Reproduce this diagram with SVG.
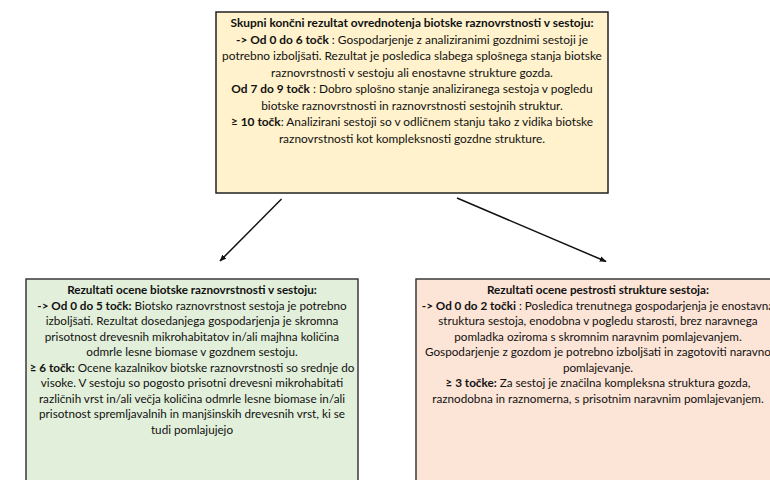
<svg xmlns="http://www.w3.org/2000/svg" width="770" height="480" viewBox="0 0 770 480">
<defs>
<style>
text{font-family:Lato,"Liberation Sans",Arial,sans-serif;font-size:11.7px;fill:#111;text-anchor:middle}
#top text{font-size:11.9px}
.b{font-weight:bold}
.box{stroke-width:1.5}
.con{stroke:#111;stroke-width:1.5;fill:none}
</style>
<marker id="ah" viewBox="0 0 10 10" refX="9" refY="5" markerWidth="7" markerHeight="7" orient="auto" markerUnits="userSpaceOnUse">
<path d="M0,1 L10,5 L0,9 z" fill="#111"/>
</marker>
</defs>
<rect width="770" height="480" fill="#fff"/>
<g id="top">
<rect class="box" x="216" y="12" width="392" height="181" fill="#FFF2CC" stroke="#222"/>
<text x="412" y="27"><tspan class="b">Skupni končni rezultat ovrednotenja biotske raznovrstnosti v sestoju:</tspan></text>
<text x="412" y="43.5"><tspan class="b">-&gt; Od 0 do 6 točk</tspan> : Gospodarjenje z analiziranimi gozdnimi sestoji je</text>
<text x="412" y="60">potrebno izboljšati. Rezultat je posledica slabega splošnega stanja biotske</text>
<text x="412" y="76.5">raznovrstnosti v sestoju ali enostavne strukture gozda.</text>
<text x="412" y="93"><tspan class="b">Od 7 do 9 točk</tspan> : Dobro splošno stanje analiziranega sestoja v pogledu</text>
<text x="412" y="109.5">biotske raznovrstnosti in raznovrstnosti sestojnih struktur.</text>
<text x="412" y="126"><tspan class="b">≥ 10 točk</tspan>: Analizirani sestoji so v odličnem stanju tako z vidika biotske</text>
<text x="412" y="142.5">raznovrstnosti kot kompleksnosti gozdne strukture.</text>
</g>
<g id="left">
<rect class="box" x="26" y="279" width="332" height="215" fill="#E2EFDA" stroke="#3a3a3a"/>
<text x="192" y="294"><tspan class="b">Rezultati ocene biotske raznovrstnosti v sestoju:</tspan></text>
<text x="192" y="309.5"><tspan class="b">-&gt; Od 0 do 5 točk:</tspan> Biotsko raznovrstnost sestoja je potrebno</text>
<text x="192" y="325">izboljšati. Rezultat dosedanjega gospodarjenja je skromna</text>
<text x="192" y="340.5">prisotnost drevesnih mikrohabitatov in/ali majhna količina</text>
<text x="192" y="356">odmrle lesne biomase v gozdnem sestoju.</text>
<text x="192" y="371.5"><tspan class="b">≥ 6 točk:</tspan> Ocene kazalnikov biotske raznovrstnosti so srednje do</text>
<text x="192" y="387">visoke. V sestoju so pogosto prisotni drevesni mikrohabitati</text>
<text x="192" y="402.5">različnih vrst in/ali večja količina odmrle lesne biomase in/ali</text>
<text x="192" y="418">prisotnost spremljavalnih in manjšinskih drevesnih vrst, ki se</text>
<text x="192" y="433.5">tudi pomlajujejo</text>
</g>
<g id="right">
<rect class="box" x="416" y="279" width="380" height="215" fill="#FCE4D6" stroke="#3a3a3a"/>
<text x="598" y="294"><tspan class="b">Rezultati ocene pestrosti strukture sestoja:</tspan></text>
<text x="598" y="309.5"><tspan class="b">-&gt; Od 0 do 2 točki</tspan> : Posledica trenutnega gospodarjenja je enostavna</text>
<text x="598" y="325">struktura sestoja, enodobna v pogledu starosti, brez naravnega</text>
<text x="598" y="340.5">pomladka oziroma s skromnim naravnim pomlajevanjem.</text>
<text x="598" y="356">Gospodarjenje z gozdom je potrebno izboljšati in zagotoviti naravno</text>
<text x="598" y="371.5">pomlajevanje.</text>
<text x="598" y="387"><tspan class="b">≥ 3 točke:</tspan> Za sestoj je značilna kompleksna struktura gozda,</text>
<text x="598" y="402.5">raznodobna in raznomerna, s prisotnim  naravnim pomlajevanjem.</text>
</g>
<g id="connectors">
<line class="con" x1="281.5" y1="199" x2="220" y2="261" marker-end="url(#ah)"/>
<line class="con" x1="457" y1="198" x2="606" y2="261.5" marker-end="url(#ah)"/>
</g>
</svg>
